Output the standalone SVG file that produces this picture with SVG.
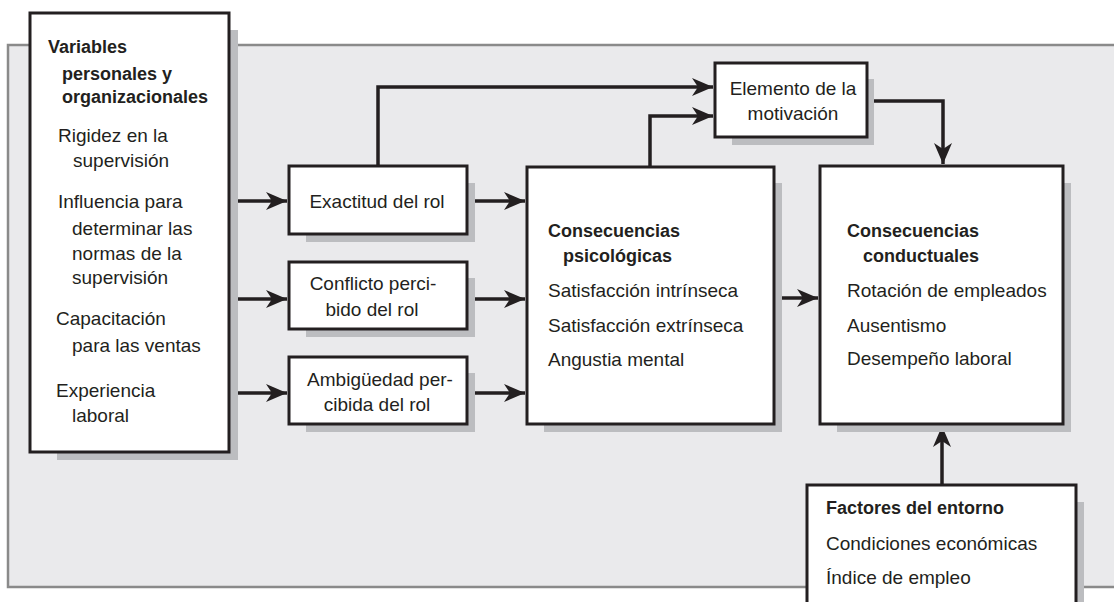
<svg xmlns="http://www.w3.org/2000/svg" width="1114" height="602" viewBox="0 0 1114 602">
<style>
.box{fill:#ffffff;stroke:#231f20;stroke-width:3}
.sh{fill:#bcbdc0}
.t{font-family:"Liberation Sans",Arial,sans-serif;font-size:19px;fill:#231f20}
.b{font-family:"Liberation Sans",Arial,sans-serif;font-size:18px;font-weight:bold;fill:#231f20}
.m{text-anchor:middle}
.c{fill:none;stroke:#231f20;stroke-width:3.5}
</style>
<defs>
<marker id="ah" markerUnits="userSpaceOnUse" markerWidth="24" markerHeight="22" viewBox="-22 -11 24 22" refX="0" refY="0" orient="auto">
<path d="M0,0 L-21,-9 L-15,0 L-21,9 Z" fill="#231f20"/>
</marker>
</defs>
<rect width="1114" height="602" fill="#ffffff"/>
<rect id="panel" x="8" y="45" width="1120" height="542" fill="#eaeaec" stroke="#8a8a8a" stroke-width="2.5"/>

<g id="connectors">
<path class="c" d="M229,201 H287" marker-end="url(#ah)"/>
<path class="c" d="M229,299 H287" marker-end="url(#ah)"/>
<path class="c" d="M229,393 H287" marker-end="url(#ah)"/>
<path class="c" d="M467,201 H525" marker-end="url(#ah)"/>
<path class="c" d="M467,299 H525" marker-end="url(#ah)"/>
<path class="c" d="M467,393 H525" marker-end="url(#ah)"/>
<path class="c" d="M378,166 V87 H713" marker-end="url(#ah)"/>
<path class="c" d="M650,167 V116 H713" marker-end="url(#ah)"/>
<path class="c" d="M867,101 H943 V164" marker-end="url(#ah)"/>
<path class="c" d="M774,298 H818" marker-end="url(#ah)"/>
<path class="c" d="M942,485 V426" marker-end="url(#ah)"/>
</g>

<g id="variables">
<rect class="sh" x="57" y="30" width="181" height="430"/>
<rect class="box" x="30" y="13" width="199" height="439"/>
<text class="b" x="48" y="53">Variables</text>
<text class="b" x="62" y="80">personales y</text>
<text class="b" x="62" y="103">organizacionales</text>
<text class="t" x="58" y="142">Rigidez en la</text>
<text class="t" x="73" y="167">supervisión</text>
<text class="t" x="58" y="208">Influencia para</text>
<text class="t" x="72" y="235">determinar las</text>
<text class="t" x="72" y="260">normas de la</text>
<text class="t" x="72" y="284">supervisión</text>
<text class="t" x="56" y="325">Capacitación</text>
<text class="t" x="72" y="352">para las ventas</text>
<text class="t" x="56" y="397">Experiencia</text>
<text class="t" x="72" y="422">laboral</text>
</g>

<g id="exactitud">
<rect class="sh" x="306" y="183" width="169" height="59"/>
<rect class="box" x="289" y="166" width="178" height="68"/>
<text class="t m" x="377" y="208">Exactitud del rol</text>
</g>

<g id="conflicto">
<rect class="sh" x="306" y="278" width="169" height="59"/>
<rect class="box" x="289" y="262" width="178" height="67"/>
<text class="t m" x="373" y="290">Conflicto perci-</text>
<text class="t m" x="372" y="316">bido del rol</text>
</g>

<g id="ambiguedad">
<rect class="sh" x="306" y="373" width="169" height="59"/>
<rect class="box" x="289" y="357" width="178" height="67"/>
<text class="t m" x="380" y="386">Ambigüedad per-</text>
<text class="t m" x="377" y="411">cibida del rol</text>
</g>

<g id="psicologicas">
<rect class="sh" x="544" y="183" width="238" height="249"/>
<rect class="box" x="527" y="167" width="247" height="257"/>
<text class="b" x="548" y="237">Consecuencias</text>
<text class="b" x="563" y="262">psicológicas</text>
<text class="t" x="548" y="297">Satisfacción intrínseca</text>
<text class="t" x="548" y="332">Satisfacción extrínseca</text>
<text class="t" x="548" y="366">Angustia mental</text>
</g>

<g id="motivacion">
<rect class="sh" x="732" y="79" width="142" height="66"/>
<rect class="box" x="715" y="63" width="152" height="74"/>
<text class="t m" x="793" y="95">Elemento de la</text>
<text class="t m" x="793" y="120">motivación</text>
</g>

<g id="conductuales">
<rect class="sh" x="837" y="183" width="234" height="249"/>
<rect class="box" x="820" y="166" width="243" height="258"/>
<text class="b" x="847" y="237">Consecuencias</text>
<text class="b" x="863" y="262">conductuales</text>
<text class="t" x="847" y="297">Rotación de empleados</text>
<text class="t" x="847" y="332">Ausentismo</text>
<text class="t" x="847" y="365">Desempeño laboral</text>
</g>

<g id="entorno">
<rect class="sh" x="824" y="502" width="260" height="110"/>
<rect class="box" x="807" y="485" width="269" height="130"/>
<text class="b" x="826" y="514">Factores del entorno</text>
<text class="t" x="826" y="550">Condiciones económicas</text>
<text class="t" x="826" y="584">Índice de empleo</text>
</g>
</svg>
